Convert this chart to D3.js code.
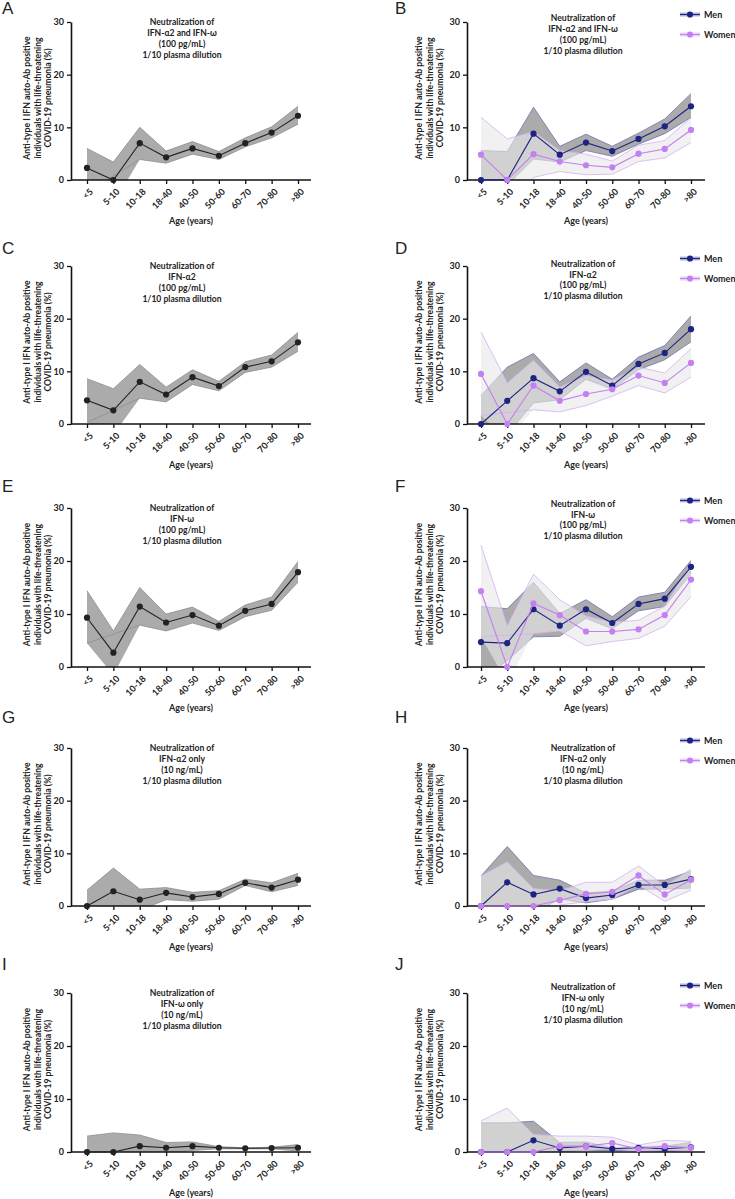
<!DOCTYPE html>
<html><head><meta charset="utf-8">
<script src="https://cdn.jsdelivr.net/npm/d3@7"></script>
<style>
body{margin:0;background:#fff}
svg{display:block}
text{font-family:Lato,"Open Sans",sans-serif;fill:#222}
</style>
</head><body>
<svg id="c" width="735" height="1199"></svg>
<script>
// ---------- data ----------
const ages = ["<5","5-10","10-18","18-40","40-50","50-60","60-70","70-80",">80"];
const yTicks = [0,10,20,30];
const yLabelLines = ["Anti-type I IFN auto-Ab positive","individuals with life-threatening","COVID-19 pneumonia (%)"];
const xLabel = "Age (years)";
const seriesNames = ["Men","Women"];

const aMean  = [2.3, 0, 7.0, 4.3, 6.0, 4.6, 7.0, 9.0, 12.2];
const aUpper = [6.0, 3.4, 10.0, 5.5, 7.3, 5.4, 8.0, 10.1, 14.0];
const aLower = [-2.4, -4.5, 3.9, 3.2, 4.9, 3.9, 6.3, 8.0, 10.6];
const aLowerGap = ["5-10"];

const bMenMean    = [0, 0, 8.8, 4.8, 7.1, 5.5, 7.8, 10.2, 14.0];
const bMenUpper   = [5.6, 5.4, 13.8, 6.4, 8.7, 6.4, 8.9, 11.6, 16.4];
const bMenLower   = [-5.6, -1.0, 4.0, 3.4, 5.6, 4.5, 6.8, 8.8, 11.9];
const bWomenMean  = [4.8, 0, 4.9, 3.5, 2.8, 2.4, 5.0, 5.9, 9.5];
const bWomenUpper = [11.9, 7.8, 9.2, 5.6, 4.9, 3.6, 6.6, 7.5, 11.8];
const bWomenLower = [-2.3, -7.8, 0.5, 1.6, 1.0, 1.1, 3.5, 4.2, 7.1];

const cMean  = [4.5, 2.6, 8.0, 5.6, 8.9, 7.2, 10.8, 11.9, 15.5];
const cUpper = [8.6, 6.7, 11.3, 7.0, 10.3, 8.1, 11.8, 13.1, 17.4];
const cLower = [0.3, -2.0, 4.9, 4.2, 7.5, 6.3, 9.8, 10.8, 13.8];
const cLowerGap = ["5-10"];

const dMenMean    = [0, 4.4, 8.7, 6.2, 9.9, 7.3, 11.4, 13.5, 18.0];
const dMenUpper   = [5.4, 10.8, 13.4, 8.0, 11.6, 8.5, 12.7, 14.9, 20.5];
const dMenLower   = [-5.4, -2.0, 4.0, 4.6, 8.5, 6.6, 10.3, 12.2, 15.6];
const dWomenMean  = [9.5, 0, 7.3, 4.4, 5.7, 6.6, 9.2, 7.8, 11.6];
const dWomenUpper = [17.5, 7.8, 12.1, 7.0, 9.2, 8.3, 10.8, 9.7, 14.3];
const dWomenLower = [1.6, -3.0, 2.7, 2.3, 3.5, 5.3, 7.3, 5.9, 8.9];
const dWomenLowerGap = ["5-10"];

const eMean  = [9.3, 2.7, 11.4, 8.4, 9.8, 7.8, 10.6, 11.9, 17.9];
const eUpper = [14.4, 6.8, 15.0, 10.0, 11.3, 8.6, 11.7, 13.2, 19.9];
const eLower = [4.5, -1.5, 7.9, 6.8, 8.3, 6.9, 9.5, 10.7, 16.0];
const eLowerGap = ["5-10"];

const fMenMean    = [4.7, 4.5, 10.9, 7.8, 10.9, 8.3, 11.9, 12.9, 18.9];
const fMenUpper   = [11.4, 11.0, 16.0, 10.1, 12.7, 9.5, 13.2, 14.1, 20.1];
const fMenLower   = [-2.5, 1.2, 5.7, 5.8, 9.2, 7.2, 10.6, 11.4, 17.6];
const fWomenMean  = [14.3, 0, 12.0, 9.8, 6.7, 6.7, 7.1, 9.8, 16.5];
const fWomenUpper = [23.0, 7.8, 17.5, 12.7, 9.6, 8.5, 8.8, 11.5, 19.5];
const fWomenLower = [5.7, -3.0, 6.3, 6.8, 4.0, 4.8, 5.4, 7.7, 13.3];
const fWomenLowerGap = ["5-10"];

const gMean  = [0, 2.8, 1.2, 2.5, 1.7, 2.3, 4.4, 3.5, 5.0];
const gUpper = [3.0, 7.2, 3.2, 3.5, 2.6, 2.9, 5.1, 4.4, 6.2];
const gLower = [-3.0, -1.6, -0.8, 1.2, 0.9, 1.3, 3.9, 2.7, 3.9];

const hMenMean    = [0, 4.5, 2.2, 3.3, 1.5, 2.1, 4.0, 4.0, 5.1];
const hMenUpper   = [5.7, 11.3, 5.8, 4.9, 2.5, 2.8, 4.9, 4.9, 6.6];
const hMenLower   = [-5.7, -2.0, -1.3, 1.3, 0.6, 1.3, 3.2, 3.2, 3.4];
const hWomenMean  = [0, 0, 0, 1.1, 2.3, 2.7, 5.8, 2.2, 5.0];
const hWomenUpper = [5.7, 8.4, 3.3, 2.9, 4.5, 4.5, 7.6, 3.8, 7.0];
const hWomenLower = [-5.7, -8.4, -3.3, 0.2, 0.8, 1.3, 4.0, 0.9, 3.0];

const iMean  = [0, 0, 1.1, 0.8, 1.1, 0.8, 0.7, 0.75, 0.8];
const iUpper = [3.0, 3.6, 3.2, 1.8, 1.9, 1.0, 0.8, 0.9, 1.4];
const iLower = [-3.0, -3.6, -1.0, -0.2, 0.3, 0.6, 0.6, 0.6, 0.2];

const jMenMean    = [0, 0, 2.2, 0.75, 1.1, 0.6, 0.8, 0.6, 0.9];
const jMenUpper   = [5.5, 5.5, 5.8, 1.8, 1.9, 0.75, 1.0, 1.1, 1.8];
const jMenLower   = [-5.5, -5.5, -1.4, 0.1, 0.3, 0.2, 0.4, 0.1, 0.3];
const jWomenMean  = [0, 0, 0, 1.1, 1.1, 1.7, 0.55, 1.1, 0.8];
const jWomenUpper = [5.9, 8.3, 3.3, 3.0, 3.0, 2.8, 1.3, 2.2, 2.0];
const jWomenLower = [-5.9, -8.3, -3.3, 0.2, 0.3, 0.6, 0.1, 0.4, 0.2];

const titles = {
  both:  ["Neutralization of","IFN-\u03b12 and IFN-\u03c9","(100 pg/mL)","1/10 plasma dilution"],
  a2:    ["Neutralization of","IFN-\u03b12","(100 pg/mL)","1/10 plasma dilution"],
  w:     ["Neutralization of","IFN-\u03c9","(100 pg/mL)","1/10 plasma dilution"],
  a2only:["Neutralization of","IFN-\u03b12 only","(10 ng/mL)","1/10 plasma dilution"],
  wonly: ["Neutralization of","IFN-\u03c9 only","(10 ng/mL)","1/10 plasma dilution"]
};

// ---------- layout & style ----------
const cols = [{x0:71, x1:311, padL:16, padR:13, yl:[-41,-30,-20], letterX:2},
              {x0:467, x1:705, padL:14, padR:14, yl:[-45,-34,-24], letterX:395}];
const rows = [{y30:22, y0:180, letter:14},
              {y30:266, y0:424, letter:254},
              {y30:508, y0:667, letter:492},
              {y30:748, y0:906, letter:723},
              {y30:993, y0:1152, letter:970}];
const STY = {
  all:   {fill:"#ababab", op:1,   edge:"#8e8e8e", line:"#222222"},
  Men:   {fill:"#6f6f6f", op:0.58, edge:"#6d72b0", line:"#1c2383"},
  Women: {fill:"#e9e9e9", op:0.62, edge:"#d6aef5", line:"#c47ff2"}
};

const panels = [
 {id:"A",col:0,row:0,title:titles.both,tdy:0,series:[{k:"all",mean:aMean,upper:aUpper,lower:aLower,gap:aLowerGap}]},
 {id:"B",col:1,row:0,title:titles.both,tdy:-4,series:[
   {k:"Men",mean:bMenMean,upper:bMenUpper,lower:bMenLower,gap:[]},
   {k:"Women",mean:bWomenMean,upper:bWomenUpper,lower:bWomenLower,gap:[]}]},
 {id:"C",col:0,row:1,title:titles.a2,tdy:0,series:[{k:"all",mean:cMean,upper:cUpper,lower:cLower,gap:cLowerGap}]},
 {id:"D",col:1,row:1,title:titles.a2,tdy:-2.4,series:[
   {k:"Men",mean:dMenMean,upper:dMenUpper,lower:dMenLower,gap:[]},
   {k:"Women",mean:dWomenMean,upper:dWomenUpper,lower:dWomenLower,gap:dWomenLowerGap}]},
 {id:"E",col:0,row:2,title:titles.w,tdy:0,series:[{k:"all",mean:eMean,upper:eUpper,lower:eLower,gap:eLowerGap}]},
 {id:"F",col:1,row:2,title:titles.w,tdy:-4.4,series:[
   {k:"Men",mean:fMenMean,upper:fMenUpper,lower:fMenLower,gap:[]},
   {k:"Women",mean:fWomenMean,upper:fWomenUpper,lower:fWomenLower,gap:fWomenLowerGap}]},
 {id:"G",col:0,row:3,title:titles.a2only,tdy:0,series:[{k:"all",mean:gMean,upper:gUpper,lower:gLower,gap:[]}]},
 {id:"H",col:1,row:3,title:titles.a2only,tdy:0,series:[
   {k:"Men",mean:hMenMean,upper:hMenUpper,lower:hMenLower,gap:[]},
   {k:"Women",mean:hWomenMean,upper:hWomenUpper,lower:hWomenLower,gap:[]}]},
 {id:"I",col:0,row:4,title:titles.wonly,tdy:0,series:[{k:"all",mean:iMean,upper:iUpper,lower:iLower,gap:[]}]},
 {id:"J",col:1,row:4,title:titles.wonly,tdy:-6,series:[
   {k:"Men",mean:jMenMean,upper:jMenUpper,lower:jMenLower,gap:[]},
   {k:"Women",mean:jWomenMean,upper:jWomenUpper,lower:jWomenLower,gap:[]}]}
];

const svg = d3.select("#c");
const defs = svg.append("defs");

panels.forEach(p => {
  const c = cols[p.col], r = rows[p.row];
  const x = d3.scalePoint().domain(ages).range([c.x0 + c.padL, c.x1 - c.padR]);
  const y = d3.scaleLinear().domain([0,30]).range([r.y0, r.y30]);
  const g = svg.append("g");
  const cid = "clip" + p.id;
  defs.append("clipPath").attr("id", cid).append("rect")
    .attr("x", c.x0).attr("y", r.y30 - 2).attr("width", c.x1 - c.x0).attr("height", r.y0 - r.y30 + 2);

  const bands = g.append("g").attr("clip-path", `url(#${cid})`);
  p.series.forEach(s => {
    const st = STY[s.k];
    const idx = d3.range(ages.length);
    bands.append("path")
      .attr("d", d3.area().x(i => x(ages[i])).y0(i => y(s.lower[i])).y1(i => y(s.upper[i]))(idx))
      .attr("fill", st.fill).attr("fill-opacity", st.op);
    bands.append("path")
      .attr("d", d3.line().x(i => x(ages[i])).y(i => y(s.upper[i]))(idx))
      .attr("fill","none").attr("stroke", st.edge).attr("stroke-width", 0.8);
    const lowIdx = idx.filter(i => !s.gap.includes(ages[i]));
    bands.append("path")
      .attr("d", d3.line().x(i => x(ages[i])).y(i => y(s.lower[i]))(lowIdx))
      .attr("fill","none").attr("stroke", st.edge).attr("stroke-width", 0.8);
  });

  // axes
  const ya = g.append("g").attr("transform", `translate(${c.x0},0)`)
    .call(d3.axisLeft(y).tickValues(yTicks).tickSize(4).tickSizeOuter(0));
  const xa = g.append("g").attr("transform", `translate(0,${r.y0})`)
    .call(d3.axisBottom(x).tickSize(4).tickSizeOuter(0));
  xa.select(".domain").attr("d", `M${c.x0},0H${c.x1}`);
  [ya, xa].forEach(a => {
    a.select(".domain").attr("stroke","#111").attr("stroke-width",1.6);
    a.selectAll(".tick line").attr("stroke","#111").attr("stroke-width",1.3);
    a.selectAll("text").attr("font-size",9).attr("font-weight",700).attr("fill","#222")
      .style("font-family","Lato, 'Open Sans', sans-serif");
  });
  xa.selectAll(".tick text")
    .attr("x",0).attr("y",0).attr("dy","0.35em")
    .attr("text-anchor","end")
    .attr("transform","translate(4,10) rotate(-45)");

  // mean lines and markers
  p.series.forEach(s => {
    const st = STY[s.k];
    const idx = d3.range(ages.length);
    g.append("path")
      .attr("d", d3.line().x(i => x(ages[i])).y(i => y(s.mean[i]))(idx))
      .attr("fill","none").attr("stroke", st.line).attr("stroke-width", 1.1);
    g.append("g").selectAll("circle").data(idx).join("circle")
      .attr("cx", i => x(ages[i])).attr("cy", i => y(s.mean[i])).attr("r", 3.1)
      .attr("fill", st.line);
  });

  // title
  const cx = (c.x0 + c.x1) / 2 - (p.col ? 3 : 9);
  g.append("text").attr("x", cx).attr("y", r.y30 + p.tdy + 3)
    .attr("text-anchor","middle").attr("font-size",8.6).attr("font-weight",700)
    .selectAll("tspan").data(p.title).join("tspan")
    .attr("x", cx).attr("dy",(d,i)=> i ? 10.9 : 0).text(d => d);

  // y label
  const ymid = (r.y0 + r.y30) / 2 - 3;
  yLabelLines.forEach((t,i) => {
    g.append("text").attr("transform", `translate(${c.x0 + c.yl[i]},${ymid}) rotate(-90)`)
      .attr("text-anchor","middle").attr("font-size",8.6).attr("font-weight",700).text(t);
  });

  // x label
  g.append("text").attr("x",(c.x0 + c.x1)/2).attr("y", r.y0 + 44)
    .attr("text-anchor","middle").attr("font-size",9).attr("font-weight",700).text(xLabel);

  // panel letter
  g.append("text").attr("x", c.letterX).attr("y", r.letter)
    .attr("font-size",17).style("font-family","'Liberation Sans', Arial, sans-serif").attr("fill","#111").text(p.id);

  // legend
  if (p.series.length > 1) {
    p.series.forEach((s,i) => {
      const st = STY[s.k];
      const ly = r.y30 - 7.5 + i * 20;
      const lx = c.x1 - 25;
      g.append("rect").attr("x", lx).attr("y", ly - 2).attr("width", 20).attr("height", 4)
        .attr("fill", st.edge).attr("opacity", 0.5);
      g.append("line").attr("x1", lx).attr("x2", lx + 20).attr("y1", ly).attr("y2", ly)
        .attr("stroke", st.line).attr("stroke-width", 1.1);
      g.append("circle").attr("cx", lx + 10).attr("cy", ly).attr("r", 3.1).attr("fill", st.line);
      g.append("text").attr("x", lx + 24).attr("y", ly).attr("dy","0.35em")
        .attr("font-size",9).attr("font-weight",700).text(seriesNames[i]);
    });
  }
});
</script>
</body></html>
